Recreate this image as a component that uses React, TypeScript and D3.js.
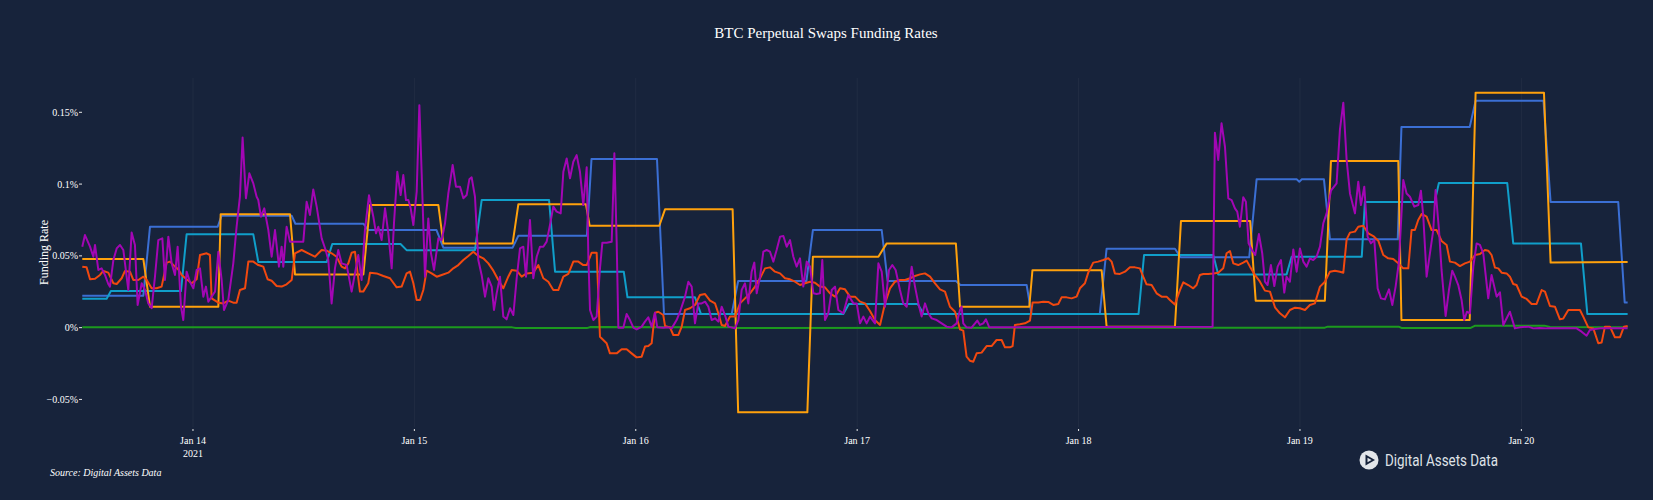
import { useEffect, useRef } from 'react';
import * as d3 from 'd3';

// [hours from 2021-01-14 00:00 UTC, funding rate in %]
type Pt = [number, number];

const T0 = Date.UTC(2021, 0, 14);
const X_START = -12.03;
const X_END = 155.56;

const BLUE_RATES: Pt[] = [
  [-12.0, 0.0223], [-5.38, 0.0223], [-4.66, 0.0703], [2.68, 0.0703], [3.1, 0.078], [10.7, 0.078], [11.1, 0.0724],
  [18.47, 0.0724], [19.0, 0.068], [26.4, 0.068], [27.14, 0.0557], [34.65, 0.0557], [35.27, 0.064], [42.7, 0.064],
  [43.2, 0.1174], [50.3, 0.1174], [51.06, 0.0095], [58.4, 0.0095], [59.1, 0.0325], [66.5, 0.0325], [67.2, 0.068],
  [74.66, 0.068], [75.3, 0.0325], [82.7, 0.0325], [83.2, 0.0297], [90.37, 0.0297], [90.9, 0.0095], [98.3, 0.0095],
  [99.04, 0.055], [106.45, 0.055], [107.06, 0.049], [114.5, 0.049], [115.3, 0.1033], [119.64, 0.1033],
  [119.93, 0.1017], [120.2, 0.1033], [122.6, 0.1033], [123.25, 0.0615], [130.6, 0.0615], [131.0, 0.1397],
  [138.4, 0.1397], [139.04, 0.158], [146.4, 0.158], [147.17, 0.0875], [154.5, 0.0875], [155.2, 0.0176],
  [155.52, 0.0176],
];

const CYAN_RATES: Pt[] = [
  [-12.0, 0.0202], [-9.36, 0.0202], [-8.9, 0.0255], [-1.3, 0.0255], [-0.69, 0.065], [6.54, 0.065], [7.08, 0.0457],
  [14.5, 0.0457], [15.1, 0.0583], [22.5, 0.0583], [23.16, 0.054], [30.57, 0.054], [31.3, 0.089], [38.6, 0.089],
  [39.25, 0.039], [46.7, 0.039], [47.1, 0.0211], [54.42, 0.0211], [55.07, 0.0095], [70.5, 0.0095], [71.1, 0.0165],
  [78.56, 0.0165], [79.2, 0.0095], [102.5, 0.0095], [103.1, 0.0506], [110.6, 0.0506], [111.14, 0.0371],
  [118.55, 0.0371], [119.1, 0.0494], [126.7, 0.0494], [127.04, 0.0875], [134.6, 0.0875], [135.06, 0.1007],
  [142.47, 0.1007], [143.12, 0.0587], [150.46, 0.0587], [151.15, 0.0095], [155.52, 0.0095],
];

const ORANGE_RATES: Pt[] = [
  [-12.0, 0.0478], [-5.38, 0.0478], [-4.66, 0.0146], [2.75, 0.0146], [3.0, 0.079], [10.52, 0.079], [11.06, 0.0371],
  [18.47, 0.0371], [19.19, 0.0854], [26.6, 0.0854], [27.14, 0.0587], [34.65, 0.0587], [35.27, 0.0859],
  [42.6, 0.0859], [43.0, 0.071], [50.55, 0.071], [51.17, 0.0824], [58.5, 0.0824], [59.1, -0.059], [66.6, -0.059],
  [67.2, 0.0494], [74.3, 0.0494], [75.2, 0.0587], [82.7, 0.0587], [83.15, 0.0146], [90.66, 0.0146], [91.0, 0.04],
  [98.5, 0.04], [99.04, 0.0007], [106.45, 0.0007], [107.1, 0.0743], [114.6, 0.0743], [115.2, 0.0188],
  [122.7, 0.0188], [123.36, 0.116], [130.66, 0.116], [131.0, 0.0053], [138.4, 0.0053], [139.04, 0.1637],
  [146.45, 0.1637], [147.17, 0.0453], [155.52, 0.0458],
];

const RED_RATES: Pt[] = [
  [-12.0, 0.0425], [-11.53, 0.042], [-11.16, 0.0337], [-10.62, 0.0341], [-10.08, 0.0367], [-9.72, 0.0395],
  [-9.18, 0.0383], [-8.63, 0.0309], [-8.27, 0.0304], [-7.73, 0.0344], [-7.37, 0.0395], [-6.83, 0.039],
  [-6.47, 0.0332], [-5.93, 0.0332], [-5.38, 0.0355], [-5.02, 0.0332], [-4.48, 0.0274], [-3.94, 0.0274],
  [-3.4, 0.0286], [-2.85, 0.0453], [-2.49, 0.046], [-1.95, 0.0425], [-1.59, 0.0406], [-1.23, 0.0367],
  [-0.69, 0.0337], [-0.14, 0.0309], [0.4, 0.0337], [0.76, 0.0506], [1.48, 0.0518], [1.84, 0.0506], [2.02, 0.0204],
  [2.75, 0.0174], [3.29, 0.0169], [3.83, 0.0188], [4.37, 0.0174], [4.73, 0.0174], [5.09, 0.0262], [5.64, 0.0274],
  [6.0, 0.046], [6.54, 0.046], [7.08, 0.0436], [7.62, 0.0425], [8.09, 0.0337], [8.53, 0.0327], [9.07, 0.029],
  [9.61, 0.0286], [10.15, 0.0302], [10.7, 0.0332], [11.06, 0.0518], [11.78, 0.0541], [12.5, 0.0518],
  [13.22, 0.0494], [13.95, 0.0541], [14.49, 0.0536], [15.03, 0.0518], [15.57, 0.0494], [16.11, 0.0425],
  [16.48, 0.0413], [16.84, 0.0448], [17.2, 0.0522], [17.56, 0.0529], [18.1, 0.0251], [18.46, 0.0251],
  [19.0, 0.0309], [19.19, 0.0383], [19.91, 0.0378], [20.64, 0.036], [21.36, 0.0344], [22.08, 0.0281],
  [22.62, 0.0286], [23.16, 0.0378], [23.53, 0.039], [23.89, 0.0309], [24.25, 0.0193], [24.61, 0.0193],
  [24.97, 0.0262], [25.33, 0.0397], [25.87, 0.0378], [26.42, 0.0355], [26.96, 0.0367], [27.68, 0.0383],
  [28.22, 0.0413], [28.76, 0.0436], [29.31, 0.0471], [29.85, 0.0499], [30.39, 0.0529], [30.93, 0.0499],
  [31.47, 0.0483], [32.02, 0.0448], [32.56, 0.0397], [33.1, 0.0332], [33.64, 0.0274], [34.18, 0.0355],
  [34.55, 0.0402], [35.09, 0.0397], [35.63, 0.0355], [36.17, 0.0378], [36.89, 0.0383], [37.44, 0.0436],
  [37.98, 0.0344], [38.52, 0.032], [39.06, 0.0262], [39.6, 0.0262], [40.15, 0.0355], [40.69, 0.0374],
  [41.23, 0.046], [41.77, 0.046], [42.31, 0.0436], [42.68, 0.0436], [43.22, 0.0522], [43.76, 0.0522],
  [44.12, -0.0063], [44.84, -0.0109], [45.2, -0.0179], [45.93, -0.0179], [46.47, -0.0151], [47.01, -0.0151],
  [47.55, -0.0179], [48.09, -0.0207], [48.64, -0.0202], [49.0, -0.0132], [49.36, -0.0128], [49.72, -0.0109],
  [50.08, 0.0104], [50.44, 0.0111], [50.98, 0.0088], [51.17, 0.0012], [51.71, 0.0002], [52.07, -0.0051],
  [52.62, -0.0051], [52.98, 0.0007], [53.34, 0.0123], [53.88, 0.0135], [54.42, 0.0158], [54.96, 0.0227],
  [55.51, 0.0234], [56.05, 0.0188], [56.59, 0.0169], [56.95, 0.01], [57.31, 0.0019], [57.67, 0.0012],
  [58.22, 0.0077], [58.76, 0.0077], [59.3, 0.0169], [59.84, 0.0204], [60.38, 0.0239], [60.93, 0.0286],
  [61.47, 0.0344], [62.01, 0.0413], [62.55, 0.042], [63.09, 0.039], [63.64, 0.0378], [64.18, 0.0344],
  [64.72, 0.0337], [65.26, 0.032], [65.8, 0.0297], [66.35, 0.0309], [66.89, 0.032], [67.43, 0.0313],
  [67.97, 0.0286], [68.51, 0.0281], [69.06, 0.0239], [69.6, 0.0216], [70.14, 0.0274], [70.68, 0.0267],
  [71.22, 0.0216], [71.77, 0.0216], [72.31, 0.0181], [72.85, 0.0169], [73.39, 0.0116], [73.93, 0.0053],
  [74.48, 0.0019], [75.02, 0.0169], [75.56, 0.0274], [76.1, 0.032], [76.64, 0.0332], [77.19, 0.0332],
  [77.73, 0.0344], [78.27, 0.036], [78.81, 0.0371], [79.35, 0.0378], [79.9, 0.0355], [80.44, 0.0309],
  [80.98, 0.0267], [81.52, 0.0251], [82.06, 0.0146], [82.61, 0.0111], [83.15, -0.0012], [83.5, -0.0021],
  [83.86, -0.0202], [84.22, -0.023], [84.59, -0.0237], [84.95, -0.0179], [85.49, -0.0174], [86.03, -0.0128],
  [86.57, -0.0128], [87.11, -0.0086], [87.66, -0.0086], [88.02, -0.0137], [88.56, -0.0137], [88.85, -0.0128],
  [89.1, 0.0019], [89.64, 0.0023], [90.19, 0.003], [90.73, 0.0049], [91.02, 0.0176], [91.63, 0.0176],
  [92.17, 0.0181], [92.71, 0.0179], [93.26, 0.0158], [93.8, 0.0165], [94.16, 0.0211], [94.7, 0.0211],
  [95.24, 0.0204], [95.79, 0.0216], [96.15, 0.0274], [96.69, 0.0309], [97.05, 0.0383], [97.59, 0.0453],
  [98.13, 0.046], [98.68, 0.0471], [99.22, 0.0483], [99.58, 0.046], [99.94, 0.0378], [100.48, 0.0374],
  [101.03, 0.039], [101.57, 0.042], [102.11, 0.042], [102.65, 0.0413], [103.01, 0.0355], [103.37, 0.0302],
  [103.92, 0.0297], [104.46, 0.0239], [105.0, 0.0216], [105.54, 0.0216], [105.9, 0.0193], [106.44, 0.0162],
  [106.99, 0.0262], [107.35, 0.0316], [107.89, 0.0297], [108.43, 0.0274], [108.79, 0.0297], [109.15, 0.0367],
  [109.52, 0.0374], [110.06, 0.0374], [110.6, 0.0378], [111.14, 0.0383], [111.68, 0.0413], [112.05, 0.0518],
  [112.41, 0.0534], [112.77, 0.0448], [113.31, 0.0436], [113.85, 0.0453], [114.22, 0.0467], [114.58, 0.0425],
  [115.12, 0.0367], [115.66, 0.032], [116.2, 0.0258], [116.75, 0.0251], [117.29, 0.0142], [117.83, 0.01],
  [118.37, 0.0072], [118.91, 0.0123], [119.46, 0.0139], [120.0, 0.0135], [120.54, 0.0123], [121.08, 0.0158],
  [121.62, 0.0169], [122.17, 0.0286], [122.71, 0.032], [123.25, 0.039], [123.79, 0.0397], [124.33, 0.039],
  [124.7, 0.0383], [125.06, 0.0615], [125.42, 0.0662], [125.96, 0.0669], [126.32, 0.0703], [126.86, 0.071],
  [127.41, 0.0657], [127.95, 0.0638], [128.49, 0.0606], [129.03, 0.0506], [129.57, 0.0483], [130.11, 0.0478],
  [130.66, 0.0448], [131.2, 0.0413], [131.74, 0.0413], [132.1, 0.068], [132.46, 0.068], [132.82, 0.075],
  [133.19, 0.0792], [133.73, 0.0773], [134.27, 0.068], [134.81, 0.068], [135.35, 0.0604], [135.9, 0.0576],
  [136.26, 0.046], [136.8, 0.0453], [137.34, 0.0429], [137.88, 0.0448], [138.43, 0.046], [138.97, 0.0506],
  [139.51, 0.0513], [140.05, 0.0541], [140.41, 0.0536], [140.77, 0.0506], [141.14, 0.0418], [141.5, 0.0413],
  [141.86, 0.0383], [142.4, 0.0378], [142.76, 0.0355], [143.12, 0.0304], [143.48, 0.0297], [144.03, 0.0216],
  [144.57, 0.02], [145.11, 0.0165], [145.65, 0.0165], [146.2, 0.0262], [146.56, 0.0251], [147.1, 0.0151],
  [147.64, 0.0146], [148.18, 0.0058], [148.54, 0.0063], [149.09, 0.0123], [149.63, 0.0123], [150.35, 0.0123],
  [150.71, 0.0077], [151.25, 0.0002], [151.8, -0.0005], [152.34, -0.0109], [152.7, -0.0104], [153.06, 0.0007],
  [153.6, 0.0007], [154.14, -0.0067], [154.69, -0.0067], [155.12, 0.0007], [155.52, 0.0012],
];

const PURPLE_RATES: Pt[] = [
  [-12.0, 0.0564], [-11.71, 0.0645], [-11.16, 0.0564], [-10.8, 0.0494], [-10.62, 0.0576], [-10.26, 0.0402],
  [-9.9, 0.0413], [-9.54, 0.0367], [-9.18, 0.0304], [-9.0, 0.0286], [-8.63, 0.0471], [-8.27, 0.0552],
  [-7.91, 0.0576], [-7.55, 0.0541], [-7.01, 0.0262], [-6.65, 0.0662], [-6.29, 0.0576], [-6.0, 0.0158],
  [-5.56, 0.0309], [-5.2, 0.0262], [-4.84, 0.0169], [-4.48, 0.0135], [-4.12, 0.0355], [-3.76, 0.061],
  [-3.32, 0.0622], [-3.04, 0.0332], [-2.67, 0.0634], [-2.31, 0.0448], [-1.95, 0.0367], [-1.66, 0.0564],
  [-1.3, 0.0146], [-1.05, 0.0053], [-0.69, 0.039], [-0.33, 0.032], [0.04, 0.0274], [0.4, 0.0402], [0.76, 0.0413],
  [1.12, 0.0216], [1.41, 0.0286], [1.66, 0.0181], [2.02, 0.0216], [2.39, 0.0251], [2.75, 0.0529], [3.11, 0.0332],
  [3.36, 0.0123], [3.83, 0.0193], [4.37, 0.0448], [4.73, 0.0703], [5.09, 0.0912], [5.38, 0.1325], [5.74, 0.0901],
  [6.11, 0.1075], [6.54, 0.1005], [6.9, 0.0912], [7.08, 0.0889], [7.37, 0.0773], [7.73, 0.0831], [8.17, 0.068],
  [8.53, 0.0494], [8.89, 0.068], [9.32, 0.0425], [9.61, 0.0564], [9.79, 0.0425], [10.15, 0.0703], [10.52, 0.0599],
  [11.24, 0.0599], [11.96, 0.0599], [12.32, 0.0877], [12.68, 0.0785], [13.04, 0.0963], [13.41, 0.0843],
  [13.95, 0.0622], [14.38, 0.0541], [14.67, 0.0471], [15.03, 0.0169], [15.39, 0.0413], [15.75, 0.0541],
  [16.11, 0.0448], [16.66, 0.0436], [17.2, 0.0251], [17.56, 0.0378], [17.92, 0.0506], [18.28, 0.0332],
  [18.64, 0.068], [19.08, 0.0922], [19.55, 0.0773], [19.84, 0.0657], [20.09, 0.0703], [20.45, 0.061],
  [20.82, 0.0831], [21.18, 0.0657], [21.54, 0.0413], [21.79, 0.0727], [22.15, 0.1086], [22.51, 0.0924],
  [22.8, 0.1063], [23.09, 0.0889], [23.35, 0.0889], [23.6, 0.0831], [23.89, 0.0715], [24.25, 0.0947],
  [24.54, 0.155], [24.79, 0.1075], [25.15, 0.0355], [25.51, 0.0761], [25.8, 0.0518], [26.13, 0.0402],
  [26.6, 0.0622], [26.96, 0.061], [27.32, 0.0727], [27.68, 0.0935], [28.15, 0.1133], [28.51, 0.0982],
  [28.95, 0.0982], [29.31, 0.0901], [29.67, 0.0924], [29.96, 0.1033], [30.21, 0.1047], [30.57, 0.0912],
  [30.93, 0.0471], [31.29, 0.0367], [31.66, 0.0216], [32.02, 0.0344], [32.38, 0.0286], [32.63, 0.0123],
  [32.92, 0.0239], [33.28, 0.0355], [33.64, 0.0077], [34.0, 0.0058], [34.37, 0.0135], [34.73, 0.0088],
  [35.09, 0.0344], [35.45, 0.0552], [35.81, 0.0564], [36.1, 0.0355], [36.53, 0.075], [36.89, 0.0344],
  [37.26, 0.0494], [37.62, 0.0564], [37.98, 0.0564], [38.34, 0.0599], [38.7, 0.0715], [39.06, 0.0843],
  [39.42, 0.0808], [39.86, 0.0796], [40.15, 0.1086], [40.51, 0.1179], [40.87, 0.104], [41.23, 0.1156],
  [41.59, 0.1202], [41.95, 0.1086], [42.31, 0.0854], [42.68, 0.1117], [42.86, 0.0494], [43.04, 0.0123],
  [43.4, 0.0053], [43.76, 0.0077], [44.12, 0.0413], [44.38, 0.0592], [44.84, 0.0592], [45.39, 0.0599],
  [45.68, 0.1214], [45.93, 0.0599], [46.11, 0.0], [46.65, 0.0], [47.01, 0.0095], [47.37, 0.0053], [47.74, 0.0],
  [48.1, -0.0012], [48.64, 0.0007], [49.0, 0.0042], [49.36, 0.0072], [49.72, 0.0007], [50.08, 0.0104],
  [50.33, 0.0002], [50.98, 0.0], [51.53, 0.0002], [51.89, -0.0005], [52.43, 0.0053], [52.8, 0.0111],
  [53.34, 0.0216], [53.7, 0.032], [54.06, 0.0286], [54.42, 0.003], [54.78, 0.0169], [55.14, 0.0169],
  [55.51, 0.0181], [55.87, 0.0146], [56.23, 0.0053], [56.59, 0.0065], [56.95, 0.0042], [57.31, 0.0146],
  [57.67, 0.0088], [58.04, 0.0007], [58.76, -0.0005], [59.12, 0.0053], [59.48, 0.0262], [59.84, 0.0309],
  [60.2, 0.0169], [60.56, 0.039], [60.85, 0.0453], [61.11, 0.0239], [61.47, 0.0355], [61.83, 0.0529],
  [62.19, 0.0541], [62.55, 0.0529], [62.91, 0.046], [63.27, 0.0541], [63.64, 0.0634], [64.0, 0.0638],
  [64.36, 0.0564], [64.72, 0.061], [65.08, 0.0494], [65.44, 0.0425], [65.8, 0.0483], [66.16, 0.0286],
  [66.53, 0.046], [66.89, 0.0425], [67.25, 0.0239], [67.61, 0.0234], [67.97, 0.0239], [68.22, 0.0471],
  [68.51, 0.0053], [68.87, 0.01], [69.24, 0.0262], [69.6, 0.0286], [69.96, 0.0123], [70.5, 0.01], [71.04, 0.0227],
  [71.59, 0.0169], [71.95, 0.0169], [72.31, 0.003], [72.67, 0.0077], [73.03, 0.003], [73.39, 0.0077],
  [73.93, 0.003], [74.3, 0.0448], [74.66, 0.039], [75.02, 0.0146], [75.45, 0.0402], [75.81, 0.0436],
  [76.17, 0.0402], [76.64, 0.0262], [77.0, 0.0169], [77.37, 0.0146], [77.91, 0.0425], [78.27, 0.0286],
  [78.63, 0.0169], [78.99, 0.0077], [79.35, 0.0169], [79.71, 0.01], [80.08, 0.0065], [80.62, 0.0053],
  [81.16, 0.003], [81.7, 0.0007], [82.24, 0.0002], [82.78, 0.003], [83.15, 0.0123], [83.32, 0.0146],
  [83.5, 0.003], [83.86, 0.0002], [84.4, 0.0], [85.02, 0.0049], [85.31, 0.0019], [85.67, 0.003], [85.96, 0.0058],
  [86.32, 0.0002], [86.75, 0.0002], [110.53, 0.0007], [110.78, 0.1358], [111.14, 0.1168], [111.5, 0.1423],
  [111.87, 0.126], [112.23, 0.0901], [112.59, 0.0889], [112.95, 0.0831], [113.2, 0.0808], [113.49, 0.0703],
  [113.85, 0.0908], [114.14, 0.0877], [114.43, 0.0587], [114.79, 0.0541], [115.15, 0.0506], [115.55, 0.0652],
  [115.91, 0.0518], [116.2, 0.032], [116.49, 0.0297], [116.85, 0.0436], [117.22, 0.029], [117.58, 0.0425],
  [117.94, 0.0471], [118.3, 0.0244], [118.55, 0.0355], [118.91, 0.032], [119.28, 0.0545], [119.64, 0.039],
  [120.0, 0.0552], [120.36, 0.046], [120.72, 0.0425], [121.08, 0.0483], [121.44, 0.0471], [121.8, 0.0494],
  [122.17, 0.0564], [122.53, 0.0727], [122.89, 0.0796], [123.36, 0.0954], [123.97, 0.1005], [124.33, 0.1377],
  [124.7, 0.1567], [125.06, 0.1168], [125.42, 0.0935], [125.96, 0.0796], [126.32, 0.1017], [126.61, 0.0854],
  [126.97, 0.0982], [127.33, 0.0634], [127.69, 0.0587], [128.06, 0.061], [128.42, 0.0274], [128.78, 0.0204],
  [129.21, 0.0197], [129.65, 0.0267], [130.01, 0.0158], [130.37, 0.0286], [130.73, 0.046], [131.2, 0.1028],
  [131.56, 0.0935], [131.92, 0.0912], [132.39, 0.0843], [132.83, 0.0854], [133.11, 0.0954], [133.37, 0.0773],
  [133.73, 0.0355], [134.09, 0.0518], [134.45, 0.068], [134.7, 0.0959], [135.07, 0.068], [135.35, 0.0402],
  [135.79, 0.0081], [136.15, 0.0262], [136.51, 0.0397], [136.8, 0.0355], [137.16, 0.0297], [137.52, 0.0193],
  [137.81, 0.0053], [138.1, 0.0111], [138.43, 0.01], [138.79, 0.0425], [139.15, 0.0587], [139.51, 0.0576],
  [139.87, 0.0518], [140.41, 0.0204], [140.77, 0.0367], [141.32, 0.0216], [141.68, 0.0246], [142.04, 0.0019],
  [142.76, 0.0111], [143.3, -0.0005], [143.85, 0.0002], [144.75, 0.0007], [145.29, -0.0005], [146.01, -0.0002],
  [146.74, -0.0005], [148.18, -0.0005], [149.99, -0.0005], [150.53, -0.0028], [151.07, -0.0056],
  [151.43, -0.0016], [151.98, -0.0009], [152.52, -0.0005], [155.52, -0.0005],
];

const GREEN_RATES: Pt[] = [
  [-12.0, 0.0002], [34.6, 0.0002], [35.0, -0.0003], [42.7, -0.0003], [43.1, 0.0005], [58.6, 0.0002],
  [59.0, -0.0002], [90.0, 0.0], [122.7, 0.0], [123.0, 0.0007], [130.7, 0.0007], [131.0, -0.0002],
  [138.5, -0.0002], [139.0, 0.0014], [146.5, 0.0014], [147.1, 0.0005], [155.52, 0.0003],
];

const SERIES = [
  { key: 'green', color: '#1c9a1e', data: GREEN_RATES },
  { key: 'blue', color: '#3b6fd4', data: BLUE_RATES },
  { key: 'cyan', color: '#109fca', data: CYAN_RATES },
  { key: 'orange', color: '#ffa10c', data: ORANGE_RATES },
  { key: 'red', color: '#f2480f', data: RED_RATES },
  { key: 'purple', color: '#a306b4', data: PURPLE_RATES },
];

const Y_TICKS = [-0.05, 0, 0.05, 0.1, 0.15];
const Y_TICK_LABELS = ['\u22120.05%', '0%', '0.05%', '0.1%', '0.15%'];

const W = 1653;
const H = 500;
const BG = '#17233b';
const SERIF = '"Times New Roman", "Liberation Serif", serif';

export default function App() {
  const svgRef = useRef<SVGSVGElement>(null);

  useEffect(() => {
    const svgEl = svgRef.current;
    if (!svgEl) return;
    const margin = { top: 78, right: 25, bottom: 73, left: 82 };
    const svg = d3.select(svgEl);
    svg.selectAll('*').remove();

    const toDate = (h: number) => new Date(T0 + h * 3600e3);
    const x = d3.scaleUtc()
      .domain([toDate(X_START), toDate(X_END)])
      .range([margin.left, W - margin.right]);
    const y = d3.scaleLinear()
      .domain([-0.0692, 0.1739])
      .range([H - margin.bottom, margin.top]);
    const top = margin.top;
    const bottom = H - margin.bottom;

    svg.append('rect').attr('width', W).attr('height', H).attr('fill', BG);

    // Title
    svg.append('text').attr('x', 826).attr('y', 38).attr('text-anchor', 'middle')
      .attr('font-family', SERIF).attr('font-size', 15).attr('fill', '#ffffff')
      .text('BTC Perpetual Swaps Funding Rates');

    // Day grid + ticks
    const days = d3.utcDay.range(toDate(X_START), toDate(X_END));
    svg.append('g').selectAll('line').data(days).join('line')
      .attr('x1', (d) => x(d)).attr('x2', (d) => x(d))
      .attr('y1', top).attr('y2', bottom)
      .attr('stroke', 'rgba(255,255,255,0.045)').attr('stroke-width', 1);

    const xAxis = svg.append('g').attr('font-family', SERIF).attr('font-size', 10).attr('fill', '#ffffff');
    xAxis.selectAll('line').data(days).join('line')
      .attr('x1', (d) => x(d)).attr('x2', (d) => x(d))
      .attr('y1', bottom + 2).attr('y2', bottom + 4)
      .attr('stroke', '#e8e8e8').attr('stroke-width', 1);
    xAxis.selectAll('text.day').data(days).join('text')
      .attr('class', 'day')
      .attr('x', (d) => x(d)).attr('y', bottom + 17).attr('text-anchor', 'middle')
      .text((d) => d3.utcFormat('%b %-d')(d));
    xAxis.append('text').attr('x', x(days[0])).attr('y', bottom + 30).attr('text-anchor', 'middle')
      .text(d3.utcFormat('%Y')(days[0]));

    // Y axis
    const yAxis = svg.append('g').attr('font-family', SERIF).attr('font-size', 10).attr('fill', '#ffffff');
    yAxis.selectAll('line').data(Y_TICKS).join('line')
      .attr('x1', margin.left - 3).attr('x2', margin.left)
      .attr('y1', (d) => y(d)).attr('y2', (d) => y(d))
      .attr('stroke', '#e8e8e8').attr('stroke-width', 1);
    yAxis.selectAll('text').data(Y_TICKS).join('text')
      .attr('x', margin.left - 4).attr('y', (d) => y(d)).attr('dy', '0.35em').attr('text-anchor', 'end')
      .text((_, i) => Y_TICK_LABELS[i]);

    svg.append('text').attr('transform', `translate(47.5,${(top + bottom) / 2}) rotate(-90)`)
      .attr('text-anchor', 'middle').attr('font-family', SERIF).attr('font-size', 12).attr('fill', '#ffffff')
      .text('Funding Rate');

    // Lines
    const line = d3.line<Pt>().x((d) => x(toDate(d[0]))).y((d) => y(d[1]));
    svg.append('g').attr('clip-path', null).selectAll('path').data(SERIES).join('path')
      .attr('fill', 'none').attr('stroke', (s) => s.color).attr('stroke-width', 2)
      .attr('stroke-linejoin', 'round').attr('stroke-linecap', 'butt')
      .attr('d', (s) => line(s.data) ?? '');

    // Source
    svg.append('text').attr('x', 50).attr('y', 476).attr('font-family', SERIF).attr('font-style', 'italic')
      .attr('font-size', 10).attr('fill', '#ffffff').text('Source: Digital Assets Data');

    // Logo
    const logo = svg.append('g').attr('transform', 'translate(1369,460)');
    logo.append('circle').attr('r', 9.5).attr('fill', '#e3e6ea');
    logo.append('path').attr('d', 'M-3.5,-5.5 L6,0 L-3.5,5.5 Z').attr('fill', BG);
    logo.append('path').attr('d', 'M-1.5,-2.2 L2.6,0 L-1.5,2.2 Z').attr('fill', '#e3e6ea');
    svg.append('text').attr('x', 1385).attr('y', 466).attr('font-family', 'Roboto, "Noto Sans", sans-serif')
      .attr('font-size', 16).attr('fill', '#dfe2e7').attr('textLength', 113).attr('lengthAdjust', 'spacingAndGlyphs')
      .text('Digital Assets Data');
  }, []);

  return (
    <svg ref={svgRef} width={W} height={H}
      style={{ position: 'absolute', left: 0, top: 0, display: 'block' }}
      role="img" aria-label="BTC Perpetual Swaps Funding Rates" />
  );
}
